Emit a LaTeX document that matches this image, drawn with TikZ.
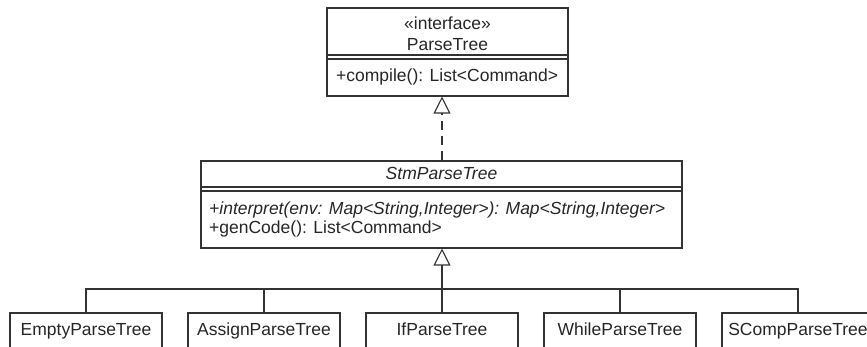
\documentclass[tikz,border=0pt]{standalone}
\usepackage{fontspec}
\setmainfont{Liberation Sans}
\usetikzlibrary{arrows.meta}
\begin{document}
\begin{tikzpicture}[x=1pt,y=-1pt,
  umlbox/.style={draw=black!80, line width=1.1pt, fill=white, inner sep=0pt},
  leaf/.style={umlbox, minimum width=152pt, minimum height=46pt},
  txt/.style={font=\fontsize{17.5}{21}\selectfont, text=black!85, inner sep=0pt, anchor=base},
  ltxt/.style={txt, anchor=base west},
  sep/.style={draw=black!80, line width=1.1pt},
  conn/.style={draw=black!80, line width=1.1pt},
  gen/.style={conn, -{Triangle[open, length=17pt, width=17pt, fill=white]}},
  real/.style={gen, dash pattern=on 9pt off 6pt}]
\useasboundingbox (0,0) rectangle (867,347);
\clip (0,0) rectangle (867,347);

% ParseTree interface
\node[umlbox, minimum width=241pt, minimum height=88pt] (pt) at (447.5,52) {};
\node[txt] (ptst) at (447.5,30) {«interface»};
\node[txt] (ptname) at (447.5,51) {ParseTree};
\draw[sep] (pt.west |- 0,55) -- (pt.east |- 0,55);
\draw[sep] (pt.west |- 0,59) -- (pt.east |- 0,59);
\node[ltxt] (ptop) at (336,82) {+compile(): List<Command>};

% StmParseTree
\node[umlbox, minimum width=481pt, minimum height=87pt] (stm) at (441.5,204.5) {};
\node[txt] (stmname) at (441.5,180) {\itshape StmParseTree};
\draw[sep] (stm.west |- 0,187) -- (stm.east |- 0,187);
\draw[sep] (stm.west |- 0,191) -- (stm.east |- 0,191);
\node[ltxt] (stmop1) at (209,215) {\itshape +interpret(env: Map<String,Integer>): Map<String,Integer>};
\node[ltxt] (stmop2) at (209,234) {+genCode(): List<Command>};

% leaves
\node[leaf] (c1) at (86,336) {};
\node[leaf] (c2) at (264,336) {};
\node[leaf] (c3) at (442,336) {};
\node[leaf] (c4) at (620,336) {};
\node[leaf] (c5) at (798,336) {};
\node[txt] (t1) at (86,335) {EmptyParseTree};
\node[txt] (t2) at (264,335) {AssignParseTree};
\node[txt] (t3) at (442,335) {IfParseTree};
\node[txt] (t4) at (620,335) {WhileParseTree};
\node[txt] (t5) at (798,335) {SCompParseTree};

% connectors
\coordinate (bus) at (442,289);
\draw[conn] (c1.north) |- (bus);
\draw[conn] (c2.north) |- (bus);
\draw[conn] (c4.north) |- (bus);
\draw[conn] (c5.north) |- (bus);
\draw[gen] (c3.north) -- (c3.north |- stm.south);
\draw[real] (stm.north -| c3.north) -- (c3.north |- pt.south);
\end{tikzpicture}
\end{document}
